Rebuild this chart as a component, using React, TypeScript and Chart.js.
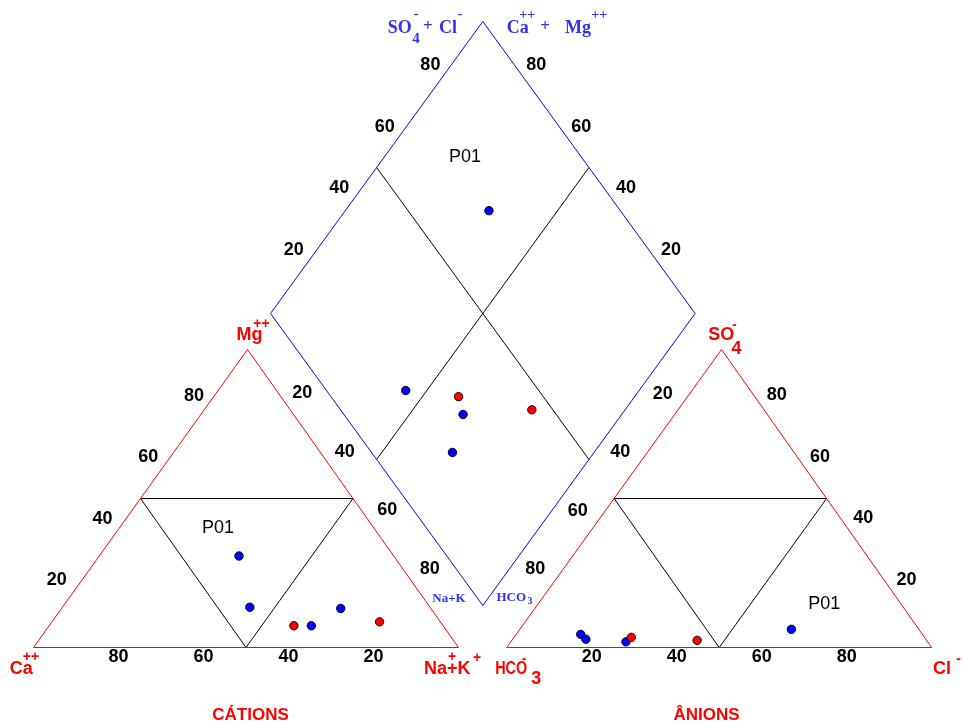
import React, { useEffect, useRef } from "react";
import { Chart, registerables } from "chart.js";

Chart.register(...registerables);

// ===== DATA (percent of meq/L) =====
// blue samples (first one is P01)
const blueCa = [36.4, 42.4, 31.0, 21.2];
const blueMg = [30.7, 13.5, 7.3, 13.1];
const blueNaK = [32.9, 44.1, 61.7, 65.7];
const blueHCO3 = [30.0, 80.4, 71.0, 80.0];
const blueSO4 = [6.1, 4.4, 1.9, 2.8];
const blueCl = [63.9, 15.2, 27.1, 17.2];

// red samples
const redCa = [35.1, 14.3];
const redMg = [7.3, 8.6];
const redNaK = [57.6, 77.1];
const redHCO3 = [69.0, 54.0];
const redSO4 = [3.4, 2.4];
const redCl = [27.6, 43.6];

const labelName = "P01";
const labelIndex = 0; // index in blue series
const tickValues = [20, 40, 60, 80];

// ===== LAYOUT (canvas units) =====
type Pt = { x: number; y: number };
const W = 964;
const H = 726;
const CAT_CA: Pt = { x: 33.5, y: 647.5 };
const CAT_NA: Pt = { x: 458.5, y: 647.5 };
const CAT_MG: Pt = { x: 247.5, y: 349.5 };
const AN_HC: Pt = { x: 506.7, y: 647.5 };
const AN_CL: Pt = { x: 931.7, y: 647.5 };
const AN_SO: Pt = { x: 721.5, y: 349.5 };
const D_L: Pt = { x: 270.5, y: 313.5 };
const D_T: Pt = { x: 482.8, y: 21.5 };
const D_B: Pt = { x: 482.8, y: 605.5 };
const D_R: Pt = { x: D_B.x + D_T.x - D_L.x, y: D_B.y + D_T.y - D_L.y };
const DIAMOND_MARK_DY = 5.5;

const RED = "#ff0000";
const BLUE = "#0000ff";
const TXT_BLUE = "#3030f0";
const SANS = "'Liberation Sans', Arial, sans-serif";
const SERIF = "'Liberation Serif', 'Times New Roman', serif";

const lerp = (a: Pt, b: Pt, t: number): Pt => ({ x: a.x + (b.x - a.x) * t, y: a.y + (b.y - a.y) * t });
const mid = (a: Pt, b: Pt): Pt => lerp(a, b, 0.5);
const add = (a: Pt, dx: number, dy: number): Pt => ({ x: a.x + dx, y: a.y + dy });

function cationPoint(ca: number, mg: number, nak: number): Pt {
  const s = ca + mg + nak;
  return {
    x: (ca * CAT_CA.x + mg * CAT_MG.x + nak * CAT_NA.x) / s,
    y: (ca * CAT_CA.y + mg * CAT_MG.y + nak * CAT_NA.y) / s,
  };
}
function anionPoint(hco3: number, so4: number, cl: number): Pt {
  const s = hco3 + so4 + cl;
  return {
    x: (hco3 * AN_HC.x + so4 * AN_SO.x + cl * AN_CL.x) / s,
    y: (hco3 * AN_HC.y + so4 * AN_SO.y + cl * AN_CL.y) / s,
  };
}
function diamondPoint(ca: number, mg: number, nak: number, hco3: number, so4: number, cl: number): Pt {
  const n = nak / (ca + mg + nak);
  const s = (so4 + cl) / (hco3 + so4 + cl);
  return {
    x: D_L.x + n * (D_B.x - D_L.x) + s * (D_T.x - D_L.x),
    y: D_L.y + n * (D_B.y - D_L.y) + s * (D_T.y - D_L.y) + DIAMOND_MARK_DY,
  };
}

function seriesPoints(ca: number[], mg: number[], nak: number[], hco3: number[], so4: number[], cl: number[]): Pt[] {
  const out: Pt[] = [];
  ca.forEach((_, i) => out.push(cationPoint(ca[i], mg[i], nak[i])));
  hco3.forEach((_, i) => out.push(anionPoint(hco3[i], so4[i], cl[i])));
  ca.forEach((_, i) => out.push(diamondPoint(ca[i], mg[i], nak[i], hco3[i], so4[i], cl[i])));
  return out;
}

type TextItem = {
  text: string;
  x: number;
  y: number;
  font: string;
  color: string;
  align?: CanvasTextAlign;
  baseline?: CanvasTextBaseline;
  scaleX?: number;
};

function offLerp(o0: [number, number], o1: [number, number], t: number): [number, number] {
  return [o0[0] + (o1[0] - o0[0]) * t, o0[1] + (o1[1] - o0[1]) * t];
}

function buildTexts(): TextItem[] {
  const T: TextItem[] = [];
  const tick = "bold 18px " + SANS;
  const pushTick = (p: Pt, v: number) =>
    T.push({ text: String(v), x: p.x, y: p.y, font: tick, color: "#000", align: "center", baseline: "middle" });

  tickValues.forEach((v) => {
    const t = v / 100;
    // cation base: Ca %
    pushTick(add(cationPoint(v, 0, 100 - v), 0, 10), v);
    // cation left edge: Mg %
    let o = offLerp([-22.6, -5.8], [-7.8, -15.3], t);
    pushTick(add(cationPoint(100 - v, v, 0), o[0], o[1]), v);
    // anion base: Cl %
    pushTick(add(anionPoint(100 - v, 0, v), 0, 10), v);
    // anion right edge: SO4 %
    o = offLerp([18, -5.8], [12, -16], t);
    pushTick(add(anionPoint(0, v, 100 - v), o[0], o[1]), v);
    // diamond lower-left: Na+K %
    pushTick(add(lerp(D_L, D_B, t), -10.7, 21.5), v);
    // diamond lower-right: HCO3 %
    pushTick(add(lerp(D_R, D_B, t), 10, 22), v);
    // diamond upper-left: SO4 + Cl %
    o = offLerp([-22.2, -2.2], [-6.9, -17.8], t);
    pushTick(add(lerp(D_L, D_T, t), o[0], o[1]), v);
    // diamond upper-right: Ca + Mg %
    o = offLerp([20.8, -2.2], [8.6, -17.8], t);
    pushTick(add(lerp(D_R, D_T, t), o[0], o[1]), v);
  });

  // sample label
  const i = labelIndex;
  const lf = "18px " + SANS;
  const pc = add(cationPoint(blueCa[i], blueMg[i], blueNaK[i]), -21, -27.7);
  const pa = add(anionPoint(blueHCO3[i], blueSO4[i], blueCl[i]), 32.8, -25.3);
  const pd = add(diamondPoint(blueCa[i], blueMg[i], blueNaK[i], blueHCO3[i], blueSO4[i], blueCl[i]), -23.9, -53.2);
  [pc, pa, pd].forEach((p) =>
    T.push({ text: labelName, x: p.x, y: p.y, font: lf, color: "#000", align: "center", baseline: "middle" })
  );

  // red vertex labels
  const big = "bold 18px " + SANS;
  const sup = "bold 14px " + SANS;
  const L = (text: string, x: number, y: number, font: string, color: string, align: CanvasTextAlign = "left", baseline: CanvasTextBaseline = "alphabetic", scaleX?: number) =>
    T.push({ text, x, y, font, color, align, baseline, scaleX });

  L("Ca", CAT_CA.x - 23.7, CAT_CA.y + 26.8, big, RED);
  L("++", CAT_CA.x - 2.5, CAT_CA.y + 10, sup, RED, "center", "middle");
  L("Na+K", CAT_NA.x - 34.5, CAT_NA.y + 26.8, big, RED);
  L("+", CAT_NA.x - 6.3, CAT_NA.y + 9.5, sup, RED, "center", "middle");
  L("+", CAT_NA.x + 18.7, CAT_NA.y + 10.5, sup, RED, "center", "middle");
  L("Mg", CAT_MG.x - 11, CAT_MG.y - 10, big, RED);
  L("++", CAT_MG.x + 14, CAT_MG.y - 25.8, sup, RED, "center", "middle");

  L("HCO", AN_HC.x - 11.5, AN_HC.y + 26.8, big, RED, "left", "alphabetic", 0.8);
  L("-", AN_HC.x + 17.5, AN_HC.y + 11.5, sup, RED, "center", "middle");
  L("3", AN_HC.x + 24.5, AN_HC.y + 36, big, RED);
  L("Cl", AN_CL.x + 1.3, AN_CL.y + 26.8, big, RED);
  L("-", AN_CL.x + 27, AN_CL.y + 11.8, sup, RED, "center", "middle");
  L("SO", AN_SO.x - 13.3, AN_SO.y - 9.5, big, RED);
  L("-", AN_SO.x + 12.8, AN_SO.y - 24.3, sup, RED, "center", "middle");
  L("4", AN_SO.x + 10, AN_SO.y + 4, big, RED);

  // bottom titles
  L("CÁTIONS", mid(CAT_CA, CAT_NA).x + 4.5, 719.5, "bold 17px " + SANS, RED, "center");
  L("ÂNIONS", mid(AN_HC, AN_CL).x - 12.7, 719.5, "bold 17px " + SANS, RED, "center");

  // diamond top labels (blue serif)
  const sb = "bold 18px " + SERIF;
  const ss = "bold 14px " + SERIF;
  L("SO", D_T.x - 95, D_T.y + 11, sb, TXT_BLUE);
  L("4", D_T.x - 70.5, D_T.y + 21.5, "bold 15px " + SERIF, TXT_BLUE);
  L("-", D_T.x - 66.8, D_T.y - 7, ss, TXT_BLUE, "center", "middle");
  L("+", D_T.x - 55, D_T.y + 5.5, "bold 17px " + SERIF, TXT_BLUE, "center", "middle");
  L("Cl", D_T.x - 43.8, D_T.y + 11, sb, TXT_BLUE);
  L("-", D_T.x - 22.8, D_T.y - 7, ss, TXT_BLUE, "center", "middle");
  L("Ca", D_T.x + 23.9, D_T.y + 11, sb, TXT_BLUE);
  L("++", D_T.x + 44.4, D_T.y - 6.5, ss, TXT_BLUE, "center", "middle");
  L("+", D_T.x + 62.2, D_T.y + 5.5, "bold 17px " + SERIF, TXT_BLUE, "center", "middle");
  L("Mg", D_T.x + 82.2, D_T.y + 11, sb, TXT_BLUE);
  L("++", D_T.x + 116.4, D_T.y - 6.5, ss, TXT_BLUE, "center", "middle");

  // diamond bottom small labels
  L("Na+K", D_B.x - 33.8, D_B.y - 6.5, "bold 13px " + SERIF, TXT_BLUE, "center", "middle");
  L("HCO", D_B.x + 28.5, D_B.y - 8, "bold 13px " + SERIF, TXT_BLUE, "center", "middle");
  L("3", D_B.x + 47.3, D_B.y - 4.5, "bold 10px " + SERIF, TXT_BLUE, "center", "middle");

  return T;
}

const textPlugin = {
  id: "piperText",
  afterDraw(chart: any) {
    const ctx: CanvasRenderingContext2D = chart.ctx;
    const sx = chart.scales.x;
    const sy = chart.scales.y;
    for (const t of buildTexts()) {
      ctx.save();
      ctx.font = t.font;
      ctx.fillStyle = t.color;
      ctx.textAlign = t.align || "left";
      ctx.textBaseline = t.baseline || "alphabetic";
      ctx.translate(sx.getPixelForValue(t.x), sy.getPixelForValue(t.y));
      if (t.scaleX) ctx.scale(t.scaleX, 1);
      ctx.fillText(t.text, 0, 0);
      ctx.restore();
    }
  },
};

function lineDs(pts: Pt[], color: string) {
  return {
    data: pts,
    showLine: true,
    borderColor: color,
    backgroundColor: color,
    borderWidth: 1,
    pointRadius: 0,
    pointHoverRadius: 0,
    fill: false,
    tension: 0,
    order: 10,
  };
}

export default function App() {
  const ref = useRef<HTMLCanvasElement | null>(null);

  useEffect(() => {
    document.body.style.margin = "0";
    document.body.style.overflow = "hidden";
    const canvas = ref.current;
    if (!canvas) return;

    const catInner = [mid(CAT_CA, CAT_MG), mid(CAT_NA, CAT_MG), mid(CAT_CA, CAT_NA), mid(CAT_CA, CAT_MG)];
    const anInner = [mid(AN_HC, AN_SO), mid(AN_CL, AN_SO), mid(AN_HC, AN_CL), mid(AN_HC, AN_SO)];

    const datasets: any[] = [
      {
        label: "red",
        data: seriesPoints(redCa, redMg, redNaK, redHCO3, redSO4, redCl),
        backgroundColor: "rgb(255,0,0)",
        borderColor: "#200000",
        borderWidth: 1,
        pointRadius: 4.2,
        pointHoverRadius: 4.2,
        order: 0,
      },
      {
        label: "blue",
        data: seriesPoints(blueCa, blueMg, blueNaK, blueHCO3, blueSO4, blueCl),
        backgroundColor: "rgb(0,0,255)",
        borderColor: "#000020",
        borderWidth: 1,
        pointRadius: 4.2,
        pointHoverRadius: 4.2,
        order: 1,
      },
      lineDs([CAT_CA, CAT_NA, CAT_MG, CAT_CA], RED),
      lineDs(catInner, "#000"),
      lineDs([AN_HC, AN_CL, AN_SO, AN_HC], RED),
      lineDs(anInner, "#000"),
      lineDs([D_L, D_T, D_R, D_B, D_L], BLUE),
      lineDs([mid(D_L, D_T), mid(D_R, D_B)], "#000"),
      lineDs([mid(D_T, D_R), mid(D_L, D_B)], "#000"),
    ];

    const chart = new Chart(canvas, {
      type: "scatter",
      data: { datasets },
      options: {
        animation: false,
        responsive: false,
        devicePixelRatio: 1,
        events: [],
        layout: { padding: 0, autoPadding: false },
        plugins: { legend: { display: false }, tooltip: { enabled: false } },
        scales: {
          x: { type: "linear", min: 0, max: W, display: false },
          y: { type: "linear", min: 0, max: H, reverse: true, display: false },
        },
      },
      plugins: [textPlugin],
    });
    return () => chart.destroy();
  }, []);

  return (
    <div style={{ width: W, height: H, background: "#fff" }}>
      <canvas ref={ref} width={W} height={H} style={{ display: "block" }} />
    </div>
  );
}
